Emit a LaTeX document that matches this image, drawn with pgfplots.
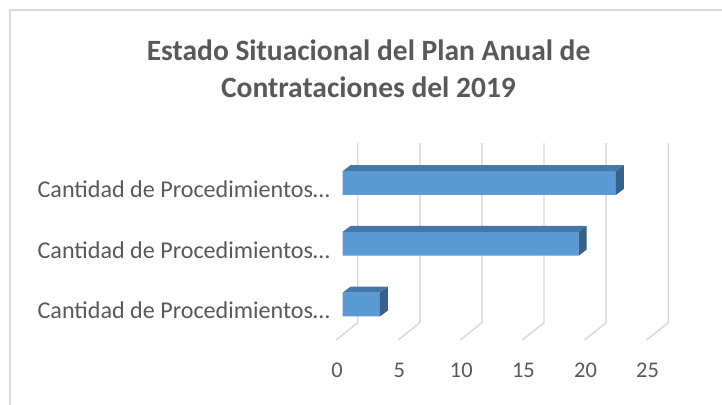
\documentclass[border=0pt]{standalone}
\usepackage{pgfplots}
\pgfplotsset{compat=1.18}
\usepackage{fontspec}
\setmainfont{Carlito}
\definecolor{barfront}{HTML}{5B9BD5}
\definecolor{bartop}{HTML}{4577AB}
\definecolor{barside}{HTML}{37608A}
\definecolor{gridc}{HTML}{D9D9D9}
\definecolor{framec}{HTML}{D9D9D9}
\definecolor{txt}{HTML}{595959}
\begin{document}
\begin{tikzpicture}
\useasboundingbox (-330bp,-35bp) rectangle (392bp,370bp);
\fill[white] (-330bp,-35bp) rectangle (392bp,370bp);
\draw[framec, line width=1.2bp] (-320bp,-40bp) -- (-320bp,360bp) -- (400bp,360bp);
\node[font=\fontsize{29.6}{37}\selectfont\bfseries, text=txt, align=center] at (38.5bp,301bp) {Estado Situacional del Plan Anual de\\Contrataciones del 2019};
\begin{axis}[
  at={(0,0)}, anchor=south west,
  x=12.42bp, y=60.75bp,
  xmin=-1.0225, xmax=29.73, ymin=-1.078, ymax=4.848,
  clip=false,
  axis line style={draw=none},
  tick style={draw=none},
  /pgf/number format/assume math mode=true,
  xtick={-0.45,4.55,9.55,14.55,19.55,24.55},
  xticklabels={0,5,10,15,20,25},
  xticklabel style={anchor=center, inner sep=0pt, font=\fontsize{22.5}{26}\selectfont, text=txt},
  ytick={-0.09,0.9,1.89},
  yticklabels={Cantidad de Procedimientos…,Cantidad de Procedimientos…,Cantidad de Procedimientos…},
  yticklabel style={anchor=east, inner sep=0pt, font=\fontsize{24.2}{28}\selectfont, text=txt},
]
% gridlines (back wall lines and floor diagonals)
\addplot[gridc, line width=1.4bp] coordinates {(-0.53,-0.584) (1.21,-0.2996) (1.21,2.658)};
\addplot[gridc, line width=1.4bp] coordinates {(4.47,-0.584) (6.21,-0.2996) (6.21,2.658)};
\addplot[gridc, line width=1.4bp] coordinates {(9.47,-0.584) (11.21,-0.2996) (11.21,2.658)};
\addplot[gridc, line width=1.4bp] coordinates {(14.47,-0.584) (16.21,-0.2996) (16.21,2.658)};
\addplot[gridc, line width=1.4bp] coordinates {(19.47,-0.584) (21.21,-0.2996) (21.21,2.658)};
\addplot[gridc, line width=1.4bp] coordinates {(24.47,-0.584) (26.21,-0.2996) (26.21,2.658)};
% front faces
\addplot[xbar, bar width=23.8bp, fill=barfront, draw=none] coordinates {(3,0) (19,1) (22,2)};
% top faces
\addplot[fill=bartop, draw=none] coordinates {(0,0.196) (3,0.196) (3.644,0.2948) (0.644,0.2948)} -- cycle;
\addplot[fill=bartop, draw=none] coordinates {(0,1.196) (19,1.196) (19.644,1.2948) (0.644,1.2948)} -- cycle;
\addplot[fill=bartop, draw=none] coordinates {(0,2.196) (22,2.196) (22.644,2.2948) (0.644,2.2948)} -- cycle;
% side faces
\addplot[fill=barside, draw=none] coordinates {(3,-0.196) (3.644,-0.0972) (3.644,0.2948) (3,0.196)} -- cycle;
\addplot[fill=barside, draw=none] coordinates {(19,0.804) (19.644,0.9028) (19.644,1.2948) (19,1.196)} -- cycle;
\addplot[fill=barside, draw=none] coordinates {(22,1.804) (22.644,1.9028) (22.644,2.2948) (22,2.196)} -- cycle;
\end{axis}
\end{tikzpicture}
\end{document}
